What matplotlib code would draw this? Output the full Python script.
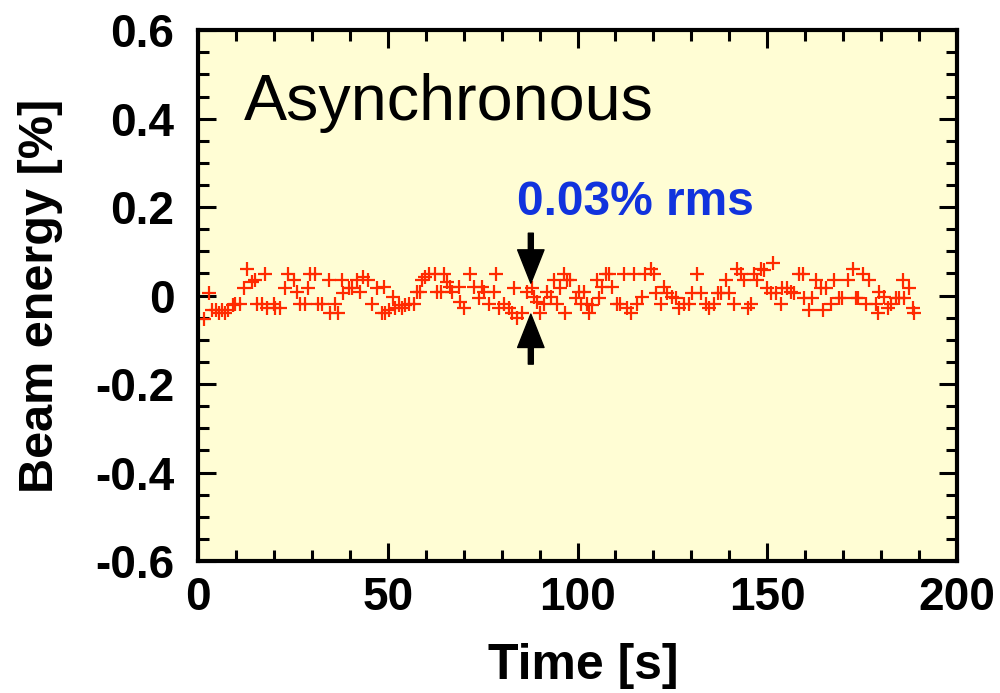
"""Beam energy stability, asynchronous mode (single panel)."""

import matplotlib

matplotlib.use("Agg")
import matplotlib.pyplot as plt
from matplotlib.ticker import MultipleLocator

plt.rcParams["font.family"] = ["Liberation Sans", "DejaVu Sans"]

# time [s] and beam energy deviation [%]
time_s = [
    1.7, 2.9, 3.6, 4.7, 5.5, 6.2, 7.1, 8.0, 9.1, 9.8, 11.1, 12.2, 12.8, 14.2,
    15.0, 15.5, 16.8, 17.7, 18.1, 19.9, 20.3, 21.6, 23.0, 23.8, 25.2, 26.0,
    26.9, 28.2, 29.1, 29.6, 30.9, 31.7, 32.6, 34.4, 34.8, 36.2, 37.0, 37.9,
    38.3, 39.7, 40.5, 41.9, 42.7, 43.6, 44.9, 45.8, 47.1, 48.5,
    48.9, 49.3, 50.2, 51.5, 52.0, 52.9, 53.7, 54.6, 55.5, 56.8, 57.7, 58.6,
    59.0, 59.9, 60.8, 62.5, 63.0, 63.9, 64.7, 65.6, 66.5, 66.9, 68.7, 69.1,
    70.0, 71.8, 72.6, 74.0, 74.8, 75.3, 76.6, 77.9, 78.4, 79.2, 80.6, 81.9,
    82.8, 83.2, 84.1, 85.4, 86.7, 88.0, 88.5, 89.4, 90.2, 91.1, 92.0, 92.9,
    93.8, 94.6, 95.5, 96.4, 96.8, 97.3,
    98.1, 99.5, 100.3, 100.8, 101.7, 102.6, 103.0, 103.9, 105.2, 105.6,
    106.5, 107.4, 108.3, 109.1, 110.5, 111.3, 112.2, 113.1, 114.0, 114.9,
    115.7, 117.1, 117.9, 119.3, 120.1, 120.6, 121.9, 122.8, 123.7, 125.0,
    125.9, 126.7, 128.1, 129.4, 130.3, 131.6, 132.5, 133.8, 134.6, 136.0,
    136.9, 137.7, 139.1, 139.9, 141.2, 142.1, 143.0, 143.9, 144.8, 145.6,
    146.5,
    147.4, 148.3, 149.2, 150.0, 150.9, 151.4, 152.2, 153.6, 154.0, 155.3,
    156.2, 157.1, 158.4, 159.3, 159.7, 161.0, 161.9, 162.8, 164.1, 164.6,
    165.4, 166.8, 167.6, 169.0, 169.8, 171.2, 172.5, 173.4, 173.8, 175.1,
    176.0, 176.9, 178.6, 179.1, 179.5, 180.8, 181.7, 182.6, 183.9, 184.8,
    185.7, 186.1, 187.4, 188.3, 188.7,
]
energy_pct = [
    -0.054, 0.006, -0.033, -0.033, -0.040, -0.033, -0.040, -0.033, -0.021,
    -0.018, -0.018, 0.016, 0.059, 0.031, 0.035, -0.018, -0.018, 0.049,
    -0.029, -0.018, -0.029, -0.029, 0.016, 0.049, 0.035, 0.009, -0.018,
    -0.018, 0.016, 0.049, 0.049, -0.018, -0.018, 0.035, -0.040, -0.018,
    -0.040, 0.035, 0.006, 0.016, 0.016, 0.035, 0.009, 0.043, 0.035, -0.018,
    0.016, -0.040,
    0.020, -0.040, -0.033, -0.003, -0.029, -0.021, -0.029, -0.021, -0.018,
    -0.018, 0.009, 0.009, 0.035, 0.043, 0.049, 0.049, 0.009, 0.009, 0.049,
    0.031, 0.020, 0.009, 0.020, -0.014, -0.029, 0.049, 0.020, -0.006, 0.020,
    0.009, -0.018, 0.009, 0.049, -0.029, -0.018, -0.029, -0.040, 0.016,
    -0.051, -0.040, 0.009, 0.016, -0.003, -0.014, -0.040, -0.018, 0.009,
    -0.003, 0.035, -0.018, 0.016, 0.049, -0.040, 0.035,
    0.035, -0.006, 0.009, -0.018, 0.009, -0.018, -0.040, -0.021, 0.035,
    -0.006, 0.020, 0.049, 0.049, 0.020, -0.018, -0.018, 0.049, -0.029,
    -0.040, 0.049, -0.018, -0.003, 0.049, 0.061, 0.049, 0.005, -0.018,
    0.020, 0.005, -0.003, -0.006, -0.029, -0.018, -0.018, 0.005, 0.049,
    0.005, -0.018, -0.029, -0.018, 0.005, 0.005, 0.035, 0.005, -0.018,
    0.061, 0.049, 0.035, -0.029, -0.018, 0.049,
    0.035, 0.061, 0.058, 0.016, 0.005, 0.073, 0.005, -0.018, 0.016, 0.016,
    0.009, 0.005, 0.049, 0.049, -0.006, -0.033, -0.006, 0.035, 0.016,
    -0.033, 0.016, -0.018, 0.035, -0.006, -0.006, 0.035, 0.061, -0.006,
    -0.006, 0.049, -0.018, 0.035, -0.018, -0.040, 0.009, -0.003, -0.029,
    -0.018, -0.006, -0.006, 0.035, -0.006, 0.016, -0.029, -0.040,
]

RMS_TEXT = "0.03% rms"
ARROW_T = 87.7
ARROW_DOWN = (0.141, 0.028)   # tail, tip
ARROW_UP = (-0.155, -0.042)

fig = plt.figure(figsize=(10, 6.93), dpi=100)
ax = fig.add_axes([0.198, 0.1905, 0.759, 0.766])
ax.set_facecolor("#fffdd4")

ax.plot(time_s, energy_pct, ls="none", marker="+", ms=10, mew=1.6,
        color="#ff2a00")

ax.set_xlim(0, 200)
ax.set_ylim(-0.6, 0.6)
ax.xaxis.set_major_locator(MultipleLocator(50))
ax.xaxis.set_minor_locator(MultipleLocator(10))
ax.yaxis.set_major_locator(MultipleLocator(0.2))
ax.yaxis.set_minor_locator(MultipleLocator(0.05))
ax.set_yticks([0.6, 0.4, 0.2, 0, -0.2, -0.4, -0.6],
              ["0.6", "0.4", "0.2", "0", "-0.2", "-0.4", "-0.6"])

for s in ax.spines.values():
    s.set_linewidth(3)
ax.tick_params(which="both", direction="in", top=True, right=True,
               width=2.2, labelsize=33)
ax.tick_params(axis="y", which="major", length=13, pad=17)
ax.tick_params(axis="x", which="major", length=13, pad=11)
ax.tick_params(which="minor", length=8)
for lab in ax.get_xticklabels() + ax.get_yticklabels():
    lab.set_fontweight("bold")

ax.set_xlabel("Time [s]", fontsize=36, fontweight="bold")
ax.set_ylabel("Beam energy [%]", fontsize=35, fontweight="bold")
ax.xaxis.set_label_coords(0.508, -0.155)
ax.yaxis.set_label_coords(-0.178, 0.5)

ax.text(12.0, 0.397, "Asynchronous", fontsize=46.5, ha="left", va="baseline")
ax.text(115.3, 0.182, RMS_TEXT, fontsize=34.5, fontweight="bold",
        color="#1133dd", ha="center", va="baseline")

arrow = dict(facecolor="black", edgecolor="black", width=3.6, headwidth=19,
             headlength=24, shrink=0)
ax.annotate("", xy=(ARROW_T, ARROW_DOWN[1]), xytext=(ARROW_T, ARROW_DOWN[0]),
            arrowprops=arrow)
ax.annotate("", xy=(ARROW_T, ARROW_UP[1]), xytext=(ARROW_T, ARROW_UP[0]),
            arrowprops=arrow)

fig.savefig("out.png", dpi=100)
